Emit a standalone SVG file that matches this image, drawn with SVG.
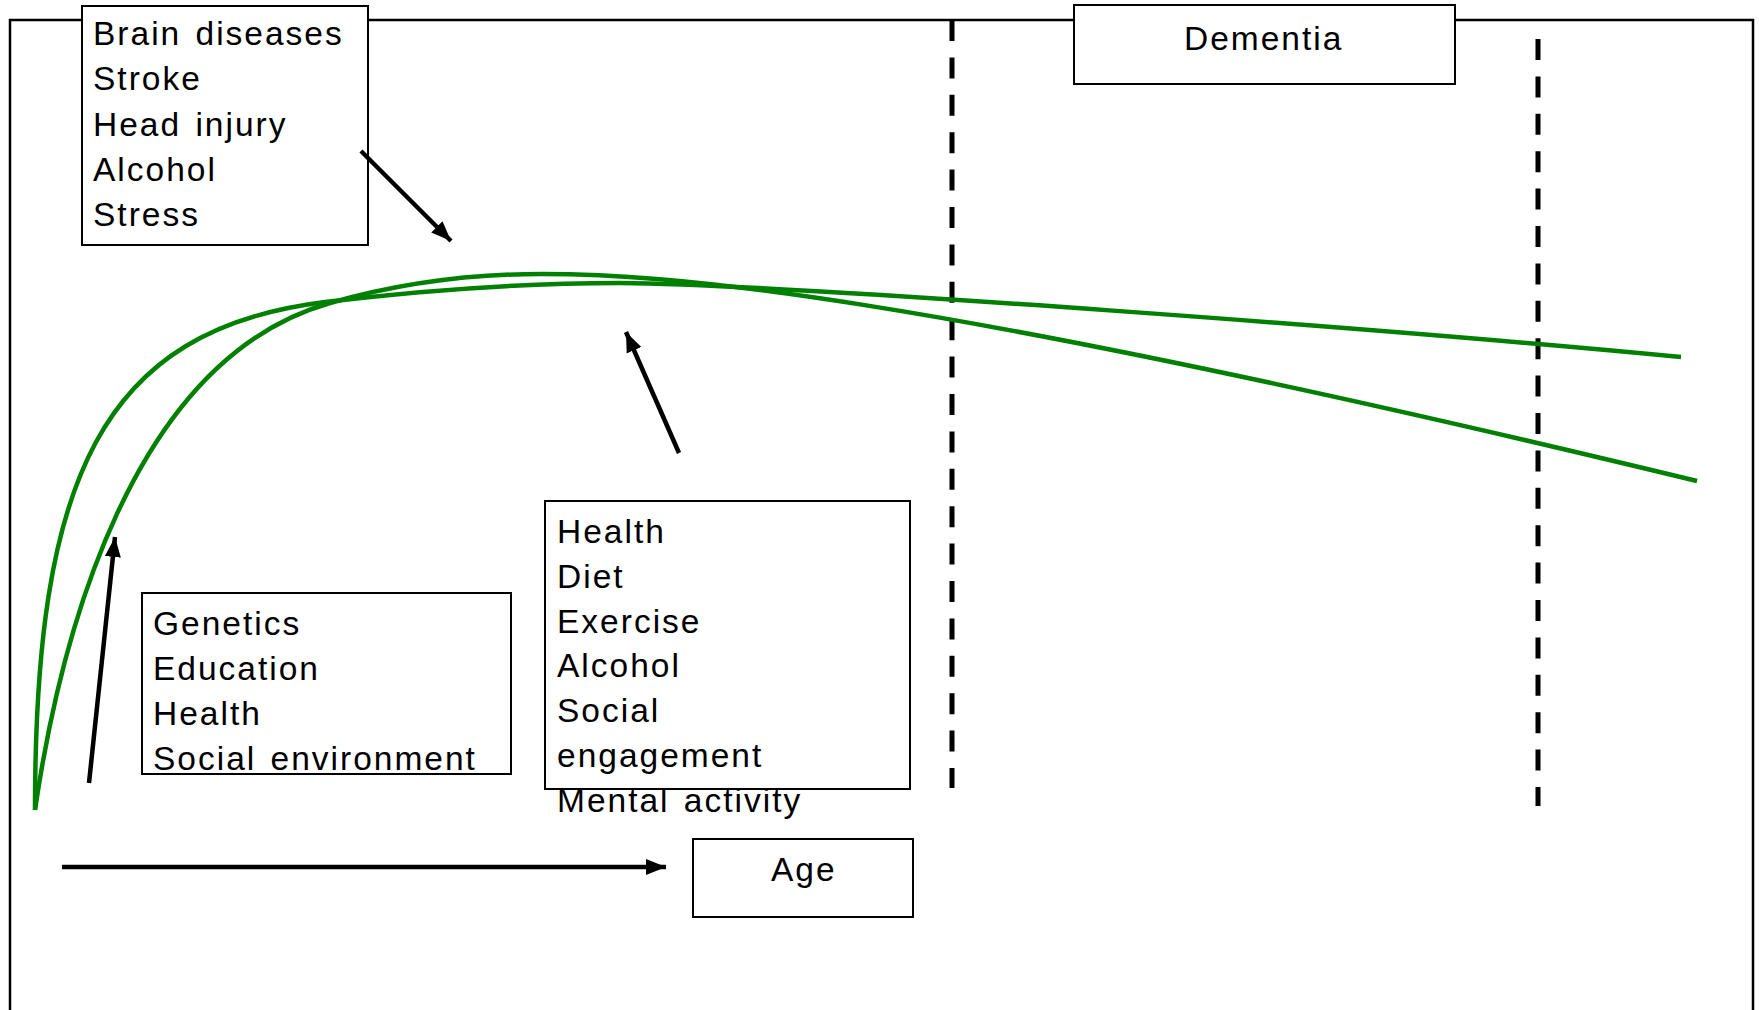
<svg xmlns="http://www.w3.org/2000/svg" width="1759" height="1010" viewBox="0 0 1759 1010">
<style>
.box{fill:#fff;stroke:#000;stroke-width:2}
.t{font-family:"Liberation Sans",Arial,sans-serif;font-size:33.5px;fill:#000;letter-spacing:2px;word-spacing:3px}
.curve{fill:none;stroke:#008000;stroke-width:4.5;stroke-linecap:butt}
.arrow{fill:none;stroke:#000;stroke-width:4.5;marker-end:url(#ah)}
.dash{fill:none;stroke:#000;stroke-width:5;stroke-dasharray:21 16.4}
</style>
<defs>
<marker id="ah" markerUnits="userSpaceOnUse" markerWidth="22" markerHeight="18" viewBox="0 0 22 18" refX="20" refY="9" orient="auto">
<path d="M0,1 L20,9 L0,17 Z" fill="#000"/>
</marker>
</defs>
<rect width="1759" height="1010" fill="#fff"/>
<path id="frame" d="M10,1012 V20 H1753 V1012" fill="none" stroke="#000" stroke-width="2.5"/>
<g id="dashed-lines">
<line class="dash" x1="952" y1="20" x2="952" y2="788"/>
<line class="dash" x1="1538" y1="39" x2="1538" y2="806"/>
</g>
<g id="curves">
<path class="curve" d="M35,810 C35,480 100,330 325,302 C425,290 520,283 620,283 C800,285 1400,330 1681,357"/>
<path class="curve" d="M35,810 C60,640 130,360 330,303 C400,283 470,274 541,274 C660,274 900,288 1697,481"/>
</g>
<g id="brain-box">
<rect class="box" x="82" y="6" width="286" height="239"/>
<text class="t" x="93" y="45">Brain diseases</text>
<text class="t" x="93" y="90">Stroke</text>
<text class="t" x="93" y="136">Head injury</text>
<text class="t" x="93" y="181">Alcohol</text>
<text class="t" x="93" y="226">Stress</text>
</g>
<g id="dementia-box">
<rect class="box" x="1074" y="5" width="381" height="79"/>
<text class="t" x="1184" y="50">Dementia</text>
</g>
<g id="genetics-box">
<rect class="box" x="142" y="593" width="369" height="181"/>
<text class="t" x="153" y="635">Genetics</text>
<text class="t" x="153" y="680">Education</text>
<text class="t" x="153" y="725">Health</text>
<text class="t" x="153" y="770">Social environment</text>
</g>
<g id="lifestyle-box">
<rect class="box" x="545" y="501" width="365" height="288"/>
<text class="t" x="557" y="543">Health</text>
<text class="t" x="557" y="588">Diet</text>
<text class="t" x="557" y="633">Exercise</text>
<text class="t" x="557" y="677">Alcohol</text>
<text class="t" x="557" y="722">Social</text>
<text class="t" x="557" y="767">engagement</text>
<text class="t" x="557" y="812">Mental activity</text>
</g>
<g id="age-box">
<rect class="box" x="693" y="839" width="220" height="78"/>
<text class="t" x="771" y="881">Age</text>
</g>
<g id="connectors">
<line class="arrow" x1="361" y1="151" x2="451" y2="241"/>
<line class="arrow" x1="679" y1="453" x2="626" y2="332"/>
<line class="arrow" x1="89" y1="783" x2="115" y2="537"/>
<line class="arrow" x1="62" y1="867" x2="666" y2="867"/>
</g>
</svg>
